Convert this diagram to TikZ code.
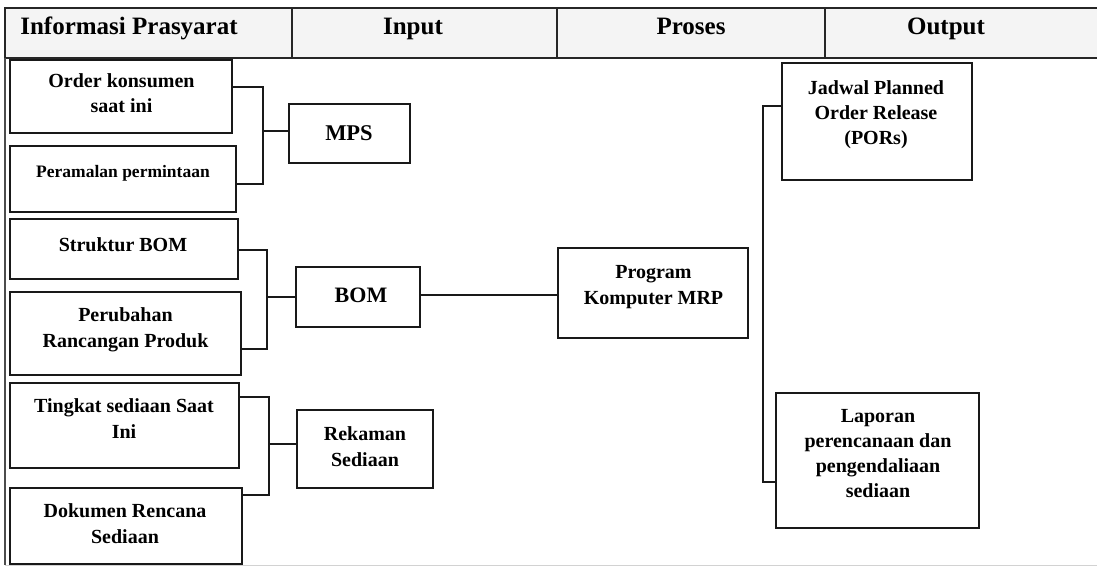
\documentclass[tikz,border=0pt]{standalone}
\usepackage{fontspec}
\setmainfont{Liberation Serif}
\usetikzlibrary{fit}
\begin{document}
\begin{tikzpicture}[x=1pt,y=-1pt,
  box/.style={draw=black!90, line width=1.9pt, inner sep=0pt, outer sep=0pt},
  hcell/.style={draw=black!85, line width=1.5pt, fill=gray!9, inner sep=0pt, outer sep=0pt},
  txt/.style={font=\bfseries\fontsize{20}{25.5}\selectfont, align=center, inner sep=0pt, anchor=base},
  htxt/.style={font=\bfseries\fontsize{25}{30}\selectfont, inner sep=0pt, anchor=base},
  conn/.style={draw=black!90, line width=1.4pt}]
\useasboundingbox (0,0) rectangle (1097,567);

% header row
\node[hcell, fit={(5,8) (292,58)}] (c1) {};
\node[hcell, fit={(292,8) (557,58)}] (c2) {};
\node[hcell, fit={(557,8) (825,58)}] (c3) {};
\node[hcell, fit={(825,8) (1100,58)}] (c4) {};
\node[htxt] (h1) at (129,34.5) {Informasi Prasyarat};
\node[htxt] (h2) at (413,34.5) {Input};
\node[htxt] (h3) at (691,34.5) {Proses};
\node[htxt] (h4) at (946,34.5) {Output};

% frame
\draw[line width=1.5pt, black!70] (c1.south west) -- (5,565);
\draw[line width=0.8pt, gray!35] (5,565) -- (1097,565);

% prerequisite boxes
\node[box, fit={(10,60) (232,133)}] (ord) {};
\node[box, fit={(10,146) (236,212)}] (per) {};
\node[box, fit={(10,219) (238,279)}] (str) {};
\node[box, fit={(10,292) (241,375)}] (pru) {};
\node[box, fit={(10,383) (239,468)}] (tin) {};
\node[box, fit={(10,488) (242,564)}] (dok) {};

% input boxes
\node[box, fit={(289,104) (410,163)}] (mps) {};
\node[box, fit={(296,267) (420,327)}] (bom) {};
\node[box, fit={(297,410) (433,488)}] (rek) {};

% process and output boxes
\node[box, fit={(558,248) (748,338)}] (prg) {};
\node[box, fit={(782,63) (972,180)}] (jad) {};
\node[box, fit={(776,393) (979,528)}] (lap) {};

% texts (anchored at the baseline of their last line)
\node[txt] (ordt) at (121.5,113) {Order konsumen\\saat ini};
\node[txt, font=\bfseries\fontsize{17.5}{22}\selectfont] (pert) at (123,177) {Peramalan permintaan};
\node[txt] (strt) at (123,251) {Struktur BOM};
\node[txt] (prut) at (125.5,347) {Perubahan\\Rancangan Produk};
\node[txt] (tint) at (124,438) {Tingkat sediaan Saat\\Ini};
\node[txt] (dokt) at (125,543) {Dokumen Rencana\\Sediaan};
\node[txt, font=\bfseries\fontsize{22.5}{27}\selectfont] (mpst) at (349,140) {MPS};
\node[txt, font=\bfseries\fontsize{22}{27}\selectfont] (bomt) at (361,302) {BOM};
\node[txt] (rekt) at (365,466) {Rekaman\\Sediaan};
\node[txt] (prgt) at (653.5,304) {Program\\Komputer MRP};
\node[txt] (jadt) at (876,145) {Jadwal Planned\\Order Release\\(PORs)};
\node[txt, font=\bfseries\fontsize{20}{24.7}\selectfont] (lapt) at (878,497) {Laporan\\perencanaan dan\\pengendaliaan\\sediaan};

% bus junctions
\coordinate (b1) at (263,131);
\coordinate (b2) at (267,297);
\coordinate (b3) at (269,444);
\coordinate (b4) at (763,300);

% connectors
\draw[conn] ([yshift=9.5pt]ord.east) -| (b1) |- ([yshift=-5pt]per.east);
\draw[conn] (b1) -- (b1 -| mps.west);
\draw[conn] ([yshift=-1pt]str.east) -| (b2) |- ([yshift=-15.5pt]pru.east);
\draw[conn] (b2) -- (b2 -| bom.west);
\draw[conn] ([yshift=28.5pt]tin.east) -| (b3) |- ([yshift=31pt]dok.east);
\draw[conn] (b3) -- (b3 -| rek.west);
\draw[conn] ([yshift=2pt]bom.east) -- ([yshift=2pt]bom.east -| prg.west);
\draw[conn] ([yshift=15.5pt]jad.west) -| (b4) |- ([yshift=-21.5pt]lap.west);
\end{tikzpicture}
\end{document}
